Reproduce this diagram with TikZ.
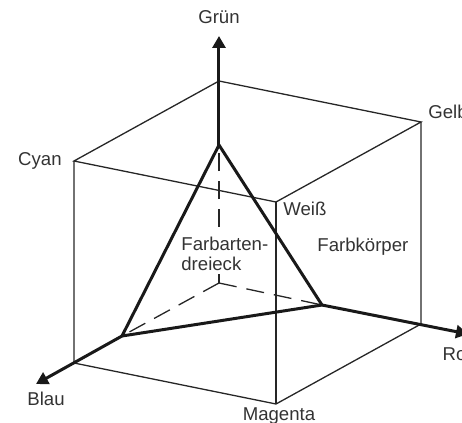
\documentclass[tikz,border=0pt]{standalone}
\usepackage{fontspec}
\setmainfont{Liberation Sans}
\usetikzlibrary{arrows.meta,positioning}

\begin{document}
\begin{tikzpicture}[
    x=0.5pt, y=-0.5pt,
    edge/.style={line width=0.65pt, draw=black!85},
    hidden/.style={line width=0.65pt, draw=black!85, dash pattern=on 9pt off 5pt},
    axis/.style={line width=1.5pt, draw=black!90, -{Triangle[length=6pt,width=6.5pt]}},
    tri/.style={line width=1.5pt, draw=black!90, line join=miter},
    lab/.style={font=\fontsize{9.3}{10}\selectfont, text=black!80, inner sep=0pt}
]
\clip (0,0) rectangle (462,423);

% cube corners
\coordinate (orig) at (219,283);
\coordinate (gtop) at (219,81);
\coordinate (cyan) at (74,161);
\coordinate (gelb) at (421,122);
\coordinate (weiss) at (276,202);
\coordinate (blau) at (74,363);
\coordinate (magenta) at (276,404);
\coordinate (rot) at (421,324);
% triangle and axis tips
\coordinate (trig) at (219,145);
\coordinate (trib) at (122,336);
\coordinate (trir) at (322,305);
\coordinate (tipg) at (219,36);
\coordinate (tipb) at (36,384);
\coordinate (tipr) at (468,334);

\draw[edge] (gtop) -- (cyan) -- (weiss) -- (gelb) -- cycle;
\draw[edge] (cyan) -- (blau) -- (magenta) -- (rot) -- (gelb);
\draw[edge] (weiss) -- (magenta);

\draw[hidden] (orig) -- (trig);
\draw[hidden] (orig) -- (trib);
\draw[hidden] (orig) -- (trir);

\draw[axis] (trig) -- (tipg);
\draw[axis] (trib) -- (tipb);
\draw[axis] (trir) -- (tipr);

\draw[tri] (trig) -- (trib) -- (trir) -- cycle;

\node[lab, above=6pt of tipg] (gruen) {Grün};
\node[lab, left=6pt of cyan] (cyanlab) {Cyan};
\node[lab, above right=1.5pt and 3.5pt of gelb] (gelblab) {Gelb};
\node[lab, below right=0pt and 3.5pt of weiss] (weisslab) {Weiß};
\node[lab, anchor=base west] (koerper) at (317,251) {Farbkörper};
\node[lab, anchor=north west, align=left, fill=white, inner sep=1.5pt] (dreieck) at (178,234) {Farbarten-\\dreieck};
\node[lab, below right=4pt and -4.5pt of tipb] (blaulab) {Blau};
\node[lab, below=1.5pt of magenta, xshift=1.5pt] (magentalab) {Magenta};
\node[lab, below left=6.5pt and -2pt of tipr] (rotlab) {Rot};
\end{tikzpicture}
\end{document}
